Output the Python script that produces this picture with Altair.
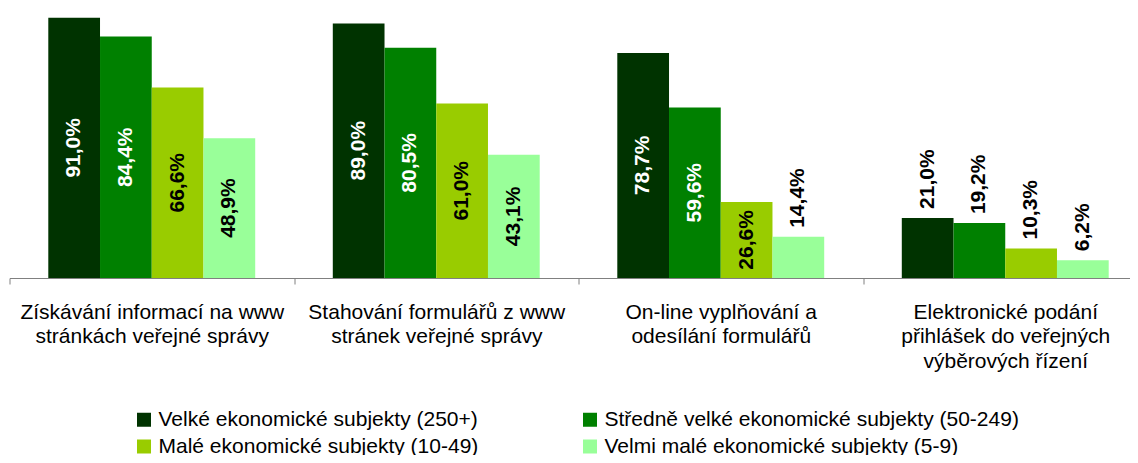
import altair as alt
import pandas as pd

categories = [
    "Získávání informací na www|stránkách veřejné správy",
    "Stahování formulářů z www|stránek veřejné správy",
    "On-line vyplňování a|odesílání formulářů",
    "Elektronické podání|přihlášek do veřejných|výběrových řízení",
]
series = [
    "Velké ekonomické subjekty (250+)",
    "Středně velké ekonomické subjekty (50-249)",
    "Malé ekonomické subjekty (10-49)",
    "Velmi malé ekonomické subjekty (5-9)",
]
velke = [91.0, 89.0, 78.7, 21.0]
stredne = [84.4, 80.5, 59.6, 19.2]
male = [66.6, 61.0, 26.6, 10.3]
velmi_male = [48.9, 43.1, 14.4, 6.2]
colors = ["#003300", "#008000", "#99CC00", "#99FF99"]
text_colors = ["white", "white", "black", "black"]

rows = []
for s, tc, vals in zip(series, text_colors, [velke, stredne, male, velmi_male]):
    for c, v in zip(categories, vals):
        inside = v >= 25
        rows.append({"cat": c, "series": s, "value": v,
                     "tcol": tc if inside else "black", "inside": inside})
df = pd.DataFrame(rows)

FONT = "Liberation Sans"
FS = 21

x = alt.X(
    "cat:N", sort=categories, title=None,
    scale=alt.Scale(paddingInner=0, paddingOuter=0),
    axis=alt.Axis(
        labelAngle=0, labelExpr="split(datum.label, '|')",
        labelFontSize=FS, labelFont=FONT, labelColor="black",
        labelLineHeight=24.5, labelPadding=17, labelLimit=0,
        tickSize=6, tickBand="extent", tickColor="#808080",
        domainColor="#808080", domainWidth=1.2,
    ),
)
xo = alt.XOffset("series:N", sort=series,
                 scale=alt.Scale(paddingInner=0, paddingOuter=0.75))
yscale = alt.Scale(domain=[0, 91.6], nice=False, zero=True)

base = alt.Chart(df).transform_calculate(
    label="replace(format(datum.value, '.1f'), '.', ',') + '%'",
    mid="datum.value / 2",
)

bars = base.mark_bar().encode(
    x=x, xOffset=xo,
    y=alt.Y("value:Q", scale=yscale, axis=None),
    color=alt.Color(
        "series:N", sort=series,
        scale=alt.Scale(domain=series, range=colors),
        legend=alt.Legend(
            orient="none", legendX=124, legendY=393, columns=2,
            direction="horizontal", title=None,
            symbolType="square", symbolSize=196, symbolStrokeWidth=0,
            labelFontSize=FS, labelFont=FONT, labelColor="black",
            columnPadding=101, rowPadding=5, labelOffset=4, labelLimit=0,
            padding=0,
        ),
    ),
)

inside_txt = base.transform_filter("datum.inside").mark_text(
    angle=270, align="center", baseline="middle",
    font=FONT, fontSize=FS, fontWeight="bold",
).encode(
    x=x, xOffset=xo,
    y=alt.Y("mid:Q", scale=yscale, axis=None),
    text="label:N",
    fill=alt.Fill("tcol:N", scale=None),
)

outside_txt = base.transform_filter("!datum.inside").mark_text(
    angle=270, align="left", baseline="middle", dx=9,
    font=FONT, fontSize=FS, fontWeight="bold",
).encode(
    x=x, xOffset=xo,
    y=alt.Y("value:Q", scale=yscale, axis=None),
    text="label:N",
    fill=alt.Fill("tcol:N", scale=None),
)

chart = alt.layer(bars, inside_txt, outside_txt).properties(
    width=1138, height=262,
    autosize=alt.AutoSizeParams(type="none"),
    padding={"left": 1.5, "top": 8, "right": -17.5, "bottom": 177},
).configure_view(stroke=None)

chart.save("out.html", embed_options={"renderer": "svg", "actions": False})
